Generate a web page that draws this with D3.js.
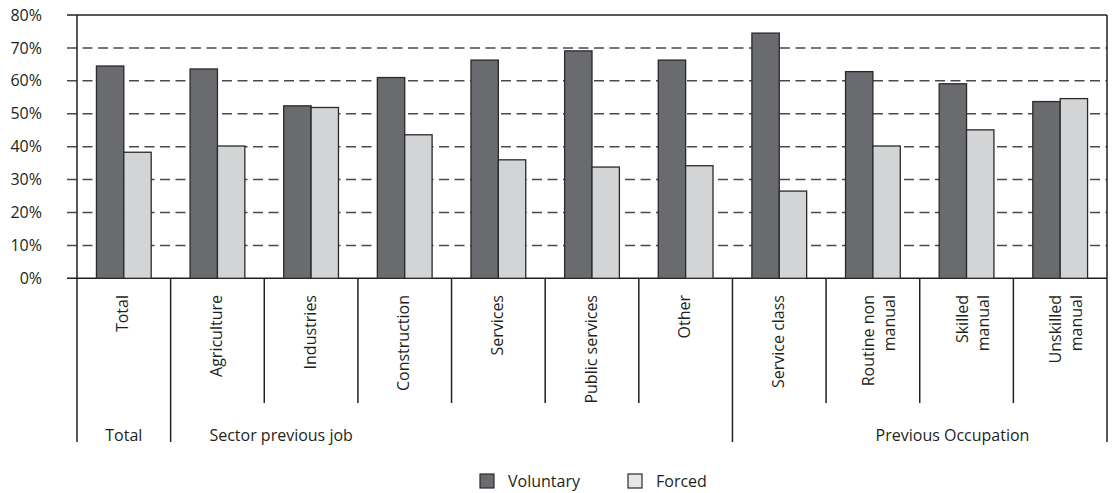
<!DOCTYPE html>
<html>
<head>
<meta charset="utf-8">
<script src="https://cdn.jsdelivr.net/npm/d3@7"></script>
<style>
  html, body { margin: 0; padding: 0; background: #fff; }
  svg { display: block; }
  text { font-family: "Open Sans", "Noto Sans", sans-serif; fill: #231f20; }
</style>
</head>
<body>
<svg id="chart" width="1112" height="493"></svg>
<script>
// Share of job changes by reason, per sector and occupation of the previous job (%)
const categories = ["Total", "Agriculture", "Industries", "Construction", "Services",
  "Public services", "Other", "Service class", "Routine non manual", "Skilled manual", "Unskilled manual"];
const categoryLines = [["Total"], ["Agriculture"], ["Industries"], ["Construction"], ["Services"],
  ["Public services"], ["Other"], ["Service class"], ["Routine non", "manual"], ["Skilled", "manual"], ["Unskilled", "manual"]];
const voluntary = [64.5, 63.6, 52.4, 61.0, 66.3, 69.1, 66.3, 74.5, 62.8, 59.1, 53.7];
const forced    = [38.3, 40.2, 51.9, 43.6, 36.0, 33.8, 34.2, 26.5, 40.2, 45.1, 54.6];
const seriesNames = ["Voluntary", "Forced"];
const seriesColors = ["#6a6b6f", "#d3d4d6"];

// Category groups: first category index and count
const groupNames = ["Total", "Sector previous job", "Previous Occupation"];
const groupStart = [0, 1, 7];
const groupSize = [1, 6, 4];
const groupLabelAt = [0.5, 2.18, 9.35]; // label centre, in category steps from the left edge

const yTicks = [0, 10, 20, 30, 40, 50, 60, 70, 80];

const svg = d3.select("#chart");
const plotLeft = 77, plotRight = 1107, plotTop = 15, plotBase = 278.3;
const catLineEnd = 403, groupLineEnd = 442;
const fontSize = 16;

const x = d3.scaleBand().domain(categories).range([plotLeft, plotRight]).paddingInner(0).paddingOuter(0);
const xs = d3.scaleBand().domain(seriesNames).range([0, x.bandwidth()]).paddingInner(0).paddingOuter(0.71);
const y = d3.scaleLinear().domain([0, 80]).range([plotBase, plotTop]);
const step = x.step();

// Horizontal grid: solid frame lines at 0 and 80, dashed in between
svg.append("g").selectAll("line").data(yTicks).join("line")
  .attr("x1", plotLeft - 10).attr("x2", plotRight)
  .attr("y1", d => y(d)).attr("y2", d => y(d))
  .attr("stroke", d => (d === 0 || d === 80) ? "#231f20" : "#4a4a4a")
  .attr("stroke-width", 1.5)
  .attr("stroke-dasharray", d => (d === 0 || d === 80) ? null : "10,5.5");

// Y axis labels
const yAxis = d3.axisLeft(y).tickValues(yTicks).tickSize(10).tickPadding(25).tickFormat(d => d + "%");
const ya = svg.append("g").attr("transform", `translate(${plotLeft},0)`).call(yAxis);
ya.select(".domain").remove();
ya.selectAll(".tick line").remove();
ya.selectAll(".tick text").attr("font-size", fontSize).attr("font-family", "'Open Sans', sans-serif").attr("fill", "#231f20");

// Bars
const rows = categories.map((c, i) => ({ c, vals: [voluntary[i], forced[i]] }));
const bars = svg.append("g").selectAll("g").data(rows).join("g")
  .attr("transform", d => `translate(${x(d.c)},0)`);
bars.selectAll("rect").data(d => d.vals.map((v, k) => ({ v, k }))).join("rect")
  .attr("x", d => xs(seriesNames[d.k]))
  .attr("width", xs.bandwidth())
  .attr("y", d => y(d.v))
  .attr("height", d => y(0) - y(d.v))
  .attr("fill", d => seriesColors[d.k])
  .attr("stroke", "#2a2a2a")
  .attr("stroke-width", 1.3);

// Category separators below the axis; group boundaries run further down
const groupEdges = new Set(groupStart.concat([categories.length]));
const edges = d3.range(categories.length + 1);
svg.append("g").selectAll("line").data(edges).join("line")
  .attr("x1", i => plotLeft + i * step).attr("x2", i => plotLeft + i * step)
  .attr("y1", i => (i === 0 || i === categories.length) ? plotTop : plotBase)
  .attr("y2", i => groupEdges.has(i) ? groupLineEnd : catLineEnd)
  .attr("stroke", "#231f20").attr("stroke-width", 1.5);

// Rotated category labels
const labels = svg.append("g").selectAll("text").data(rows.map((r, i) => ({ c: r.c, lines: categoryLines[i] }))).join("text")
  .attr("transform", d => `translate(${x(d.c) + step / 2},295) rotate(-90)`)
  .attr("text-anchor", "end")
  .attr("font-size", fontSize);
labels.selectAll("tspan").data(d => d.lines.map((t, j) => ({ t, j, n: d.lines.length }))).join("tspan")
  .attr("x", 0)
  .attr("y", d => d.n === 1 ? 4.5 : (d.j === 0 ? 1 : 22))
  .text(d => d.t);

// Group labels
svg.append("g").selectAll("text").data(groupNames).join("text")
  .attr("x", (d, i) => plotLeft + groupLabelAt[i] * step)
  .attr("y", 441)
  .attr("text-anchor", "middle")
  .attr("font-size", fontSize)
  .text(d => d);

// Legend
const legendX = [480, 628];
const legend = svg.append("g").selectAll("g").data(seriesNames).join("g")
  .attr("transform", (d, i) => `translate(${legendX[i]},474)`);
legend.append("rect").attr("width", 14).attr("height", 14)
  .attr("fill", (d, i) => i === 0 ? seriesColors[0] : "#e6e7e8")
  .attr("stroke", "#2a2a2a").attr("stroke-width", 1.2);
legend.append("text").attr("x", 28).attr("y", 13).attr("font-size", fontSize).text(d => d);
</script>
</body>
</html>
